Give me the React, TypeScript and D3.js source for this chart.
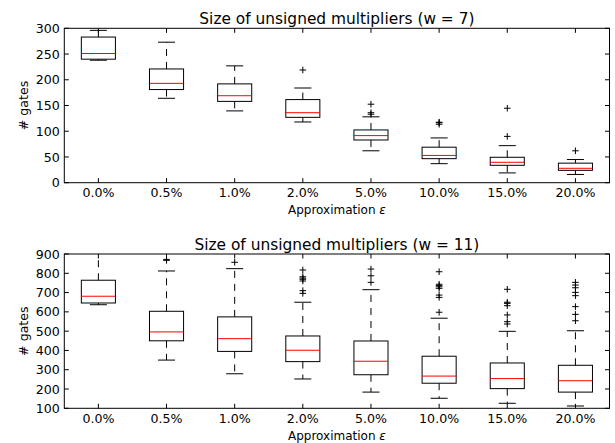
import React from "react";
import * as d3 from "d3";

// Approximation levels (x categories)
const categories = ["0.0%", "0.5%", "1.0%", "2.0%", "5.0%", "10.0%", "15.0%", "20.0%"];

// w = 7 box statistics
const w7WhiskerLow = [238, 164, 139.5, 118, 62, 37, 19, 16];
const w7Q1 = [240, 181, 158, 127, 83, 46.7, 33.8, 24];
const w7Median = [251, 193, 169, 136, 91.5, 53, 39.7, 28];
const w7Q3 = [283, 221, 192, 161.5, 102.5, 69, 49.4, 38];
const w7WhiskerHigh = [296, 273, 227, 184, 128, 87, 72, 45];
const w7Outliers = [[], [], [], [219], [152.5, 136, 133], [117.5, 116.5, 113.6], [144.7, 90], [62]];
const w7Ticks = [0, 50, 100, 150, 200, 250, 300];

// w = 11 box statistics
const w11WhiskerLow = [637, 350, 279, 252, 184, 152, 126, 112];
const w11Q1 = [646, 450, 395, 342, 274, 230, 202, 184];
const w11Median = [681, 496, 461, 401, 344, 267, 254, 243];
const w11Q3 = [764, 603, 574, 475, 449, 370, 335, 323];
const w11WhiskerHigh = [910, 812, 824, 650, 715, 567, 499, 502];
const w11Outliers = [
  [],
  [872, 867],
  [857],
  [817, 782, 775, 769, 760, 710, 696],
  [822, 787, 753],
  [808, 743, 736, 730, 722, 687, 675, 598],
  [717, 650, 644, 632, 584, 549, 537],
  [753, 739, 725, 701, 684, 627, 587, 554],
];
const w11Ticks = [100, 200, 300, 400, 500, 600, 700, 800, 900];

const FONT = "DejaVu Sans, sans-serif";
const LEFT = 64.3;
const RIGHT = 609.5;
const TICK = 4.5;

type PanelProps = {
  id: string;
  title: string;
  top: number;
  bottom: number;
  domain: [number, number];
  ticks: number[];
  lo: number[];
  q1: number[];
  med: number[];
  q3: number[];
  hi: number[];
  outliers: number[][];
};

function Panel(p: PanelProps) {
  const x = d3.scaleLinear().domain([0.5, categories.length + 0.5]).range([LEFT, RIGHT]);
  const y = d3.scaleLinear().domain(p.domain).range([p.bottom, p.top]);
  const boxHalf = (x(1.25) - x(1)) ;
  const capHalf = boxHalf / 2;
  const clipId = `clip-${p.id}`;
  return (
    <g>
      <defs>
        <clipPath id={clipId}>
          <rect x={LEFT} y={p.top} width={RIGHT - LEFT} height={p.bottom - p.top} />
        </clipPath>
      </defs>
      <g clipPath={`url(#${clipId})`}>
        {categories.map((c, i) => {
          const cx = x(i + 1);
          return (
            <g key={c}>
              <line x1={cx} x2={cx} y1={y(p.q3[i])} y2={y(p.hi[i])} stroke="#000" strokeWidth={1} strokeDasharray="7,6" />
              <line x1={cx} x2={cx} y1={y(p.q1[i])} y2={y(p.lo[i])} stroke="#000" strokeWidth={1} strokeDasharray="7,6" />
              <line x1={cx - capHalf} x2={cx + capHalf} y1={y(p.hi[i])} y2={y(p.hi[i])} stroke="#000" strokeWidth={1} />
              <line x1={cx - capHalf} x2={cx + capHalf} y1={y(p.lo[i])} y2={y(p.lo[i])} stroke="#000" strokeWidth={1} />
              <rect
                x={cx - boxHalf}
                y={y(p.q3[i])}
                width={boxHalf * 2}
                height={y(p.q1[i]) - y(p.q3[i])}
                fill="none"
                stroke="#000"
                strokeWidth={1}
              />
              <line x1={cx - boxHalf} x2={cx + boxHalf} y1={y(p.med[i])} y2={y(p.med[i])} stroke="#ff0000" strokeWidth={1} />
              {p.outliers[i].map((v, j) => (
                <g key={j}>
                  <line x1={cx - 3.3} x2={cx + 3.3} y1={y(v)} y2={y(v)} stroke="#000" strokeWidth={1} />
                  <line x1={cx} x2={cx} y1={y(v) - 3.3} y2={y(v) + 3.3} stroke="#000" strokeWidth={1} />
                </g>
              ))}
            </g>
          );
        })}
      </g>
      {/* frame */}
      <rect x={LEFT} y={p.top} width={RIGHT - LEFT} height={p.bottom - p.top} fill="none" stroke="#000" strokeWidth={1} />
      {/* y ticks, inward on both sides */}
      {p.ticks.map((t) => (
        <g key={t}>
          <line x1={LEFT} x2={LEFT + TICK} y1={y(t)} y2={y(t)} stroke="#000" strokeWidth={1} />
          <line x1={RIGHT - TICK} x2={RIGHT} y1={y(t)} y2={y(t)} stroke="#000" strokeWidth={1} />
          <text x={LEFT - 4.5} y={y(t)} dy="0.36em" textAnchor="end" fontFamily={FONT} fontSize={12.6} fill="#000">
            {t}
          </text>
        </g>
      ))}
      {/* x ticks, inward on top and bottom */}
      {categories.map((c, i) => (
        <g key={c}>
          <line x1={x(i + 1)} x2={x(i + 1)} y1={p.bottom} y2={p.bottom - TICK} stroke="#000" strokeWidth={1} />
          <line x1={x(i + 1)} x2={x(i + 1)} y1={p.top} y2={p.top + TICK} stroke="#000" strokeWidth={1} />
          <text x={x(i + 1)} y={p.bottom + 14.6} textAnchor="middle" fontFamily={FONT} fontSize={12.6} fill="#000">
            {c}
          </text>
        </g>
      ))}
      <text x={(LEFT + RIGHT) / 2} y={p.bottom + 31.7} textAnchor="middle" fontFamily={FONT} fontSize={12} fill="#000">
        Approximation <tspan fontStyle="italic">ε</tspan>
      </text>
      <text
        transform={`translate(${27.5},${(p.top + p.bottom) / 2}) rotate(-90)`}
        textAnchor="middle"
        fontFamily={FONT}
        fontSize={12.6}
        fill="#000"
      >
        # gates
      </text>
      <text x={(LEFT + RIGHT) / 2} y={p.top - 4.3} textAnchor="middle" fontFamily={FONT} fontSize={15.4} fill="#000">
        {p.title}
      </text>
    </g>
  );
}

export default function App() {
  return (
    <svg
      width={615}
      height={443}
      style={{ position: "absolute", left: 0, top: 0, background: "#fff" }}
    >
      <rect width={615} height={443} fill="#fff" />
      <Panel
        id="w7"
        title="Size of unsigned multipliers (w = 7)"
        top={28.3}
        bottom={182.7}
        domain={[0, 300]}
        ticks={w7Ticks}
        lo={w7WhiskerLow}
        q1={w7Q1}
        med={w7Median}
        q3={w7Q3}
        hi={w7WhiskerHigh}
        outliers={w7Outliers}
      />
      <Panel
        id="w11"
        title="Size of unsigned multipliers (w = 11)"
        top={254}
        bottom={408.3}
        domain={[100, 900]}
        ticks={w11Ticks}
        lo={w11WhiskerLow}
        q1={w11Q1}
        med={w11Median}
        q3={w11Q3}
        hi={w11WhiskerHigh}
        outliers={w11Outliers}
      />
    </svg>
  );
}
